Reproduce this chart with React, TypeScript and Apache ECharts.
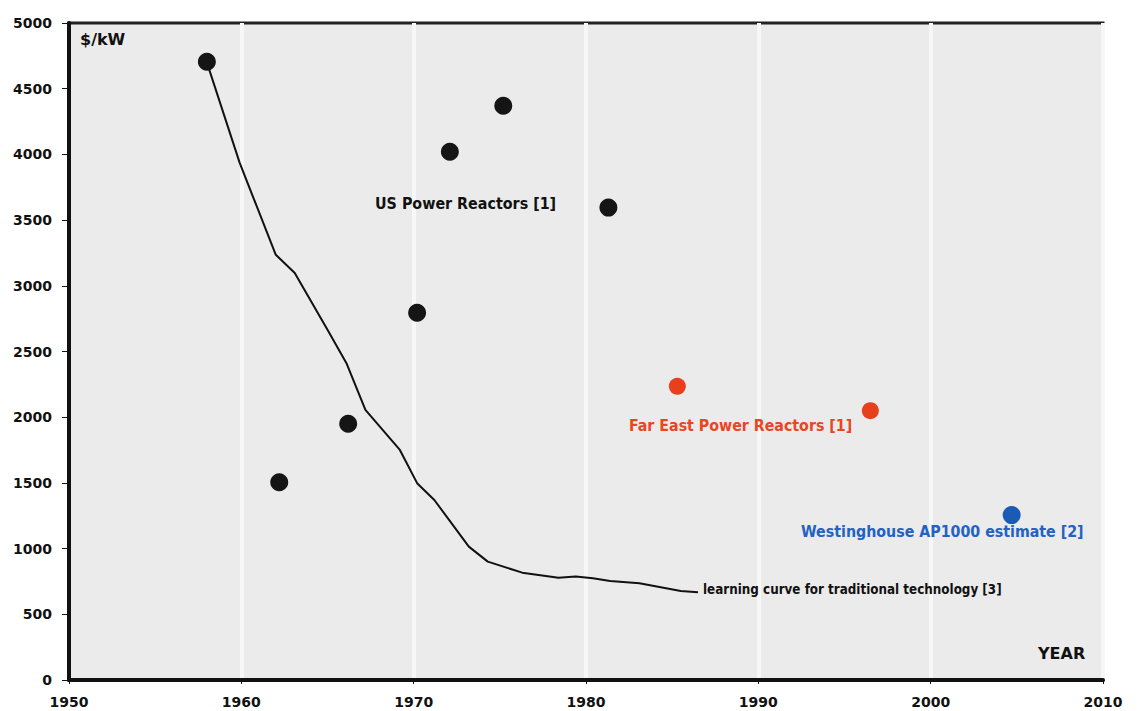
import React, { useEffect, useRef } from "react";
import * as echarts from "echarts";

// US power reactors [year, $/kW]
const usYears = [1958, 1962.2, 1966.2, 1970.2, 1972.1, 1975.2, 1981.3];
const usCosts = [4705, 1505, 1950, 2795, 4020, 4370, 3595];

// Far East power reactors
const feYears = [1985.3, 1996.5];
const feCosts = [2235, 2050];

// Westinghouse AP1000 estimate
const apYears = [2004.7];
const apCosts = [1255];

// Learning curve for traditional technology
const lcYears = [1958, 1959.9, 1962.0, 1963.1, 1965.0, 1966.1, 1967.2, 1969.2, 1970.2, 1971.2, 1973.2, 1974.3, 1976.3, 1978.4, 1979.4, 1980.4, 1981.4, 1983.1, 1985.5, 1986.5];
const lcCosts = [4700, 3937, 3236, 3097, 2665, 2411, 2056, 1751, 1498, 1370, 1015, 901, 817, 779, 787, 774, 754, 736, 678, 668];

const xTicks = [1950, 1960, 1970, 1980, 1990, 2000, 2010];

const zip = (a: number[], b: number[]) => a.map((v, i) => [v, b[i]]);

const FONT = "Verdana, 'DejaVu Sans', sans-serif";
const FONT_NARROW = "'DejaVu Sans Condensed', 'DejaVu Sans', sans-serif";

export default function App() {
  const ref = useRef<HTMLDivElement>(null);
  useEffect(() => {
    if (!ref.current) return;
    const chart = echarts.init(ref.current, null, { renderer: "svg" });
    const txt = (text: string, left: number, top: number, color: string, size: number, family = FONT_NARROW) => ({
      type: "text",
      left,
      top,
      z: 100,
      style: { text, fill: color, font: `bold ${size}px ${family}` },
    });
    chart.setOption({
      animation: false,
      backgroundColor: "#ffffff",
      grid: {
        left: 69,
        right: 36,
        top: 23,
        bottom: 31,
        show: true,
        backgroundColor: "#ebebeb",
        borderColor: "#222",
        borderWidth: 3,
      },
      xAxis: {
        type: "value",
        min: 1950,
        max: 2010,
        interval: 10,
        axisLine: { show: true, onZero: false, lineStyle: { color: "#111", width: 4 } },
        axisTick: { show: true, length: 4, lineStyle: { color: "#111" } },
        axisLabel: {
          margin: 15,
          color: "#111",
          fontWeight: "bold",
          fontSize: 14,
          fontFamily: FONT,
          formatter: (v: number) => (xTicks.includes(v) ? String(v) : ""),
        },
        splitLine: { show: true, lineStyle: { color: "#f7f7f7", width: 4 } },
      },
      yAxis: {
        type: "value",
        min: 0,
        max: 5000,
        interval: 500,
        axisLine: { show: true, onZero: false, lineStyle: { color: "#111", width: 4 } },
        axisTick: { show: true, length: 7, lineStyle: { color: "#111" } },
        axisLabel: {
          margin: 17,
          color: "#111",
          fontWeight: "bold",
          fontSize: 14,
          fontFamily: FONT,
          formatter: (v: number) => String(v),
        },
        splitLine: { show: false },
      },
      series: [
        {
          name: "learning curve",
          type: "line",
          data: zip(lcYears, lcCosts),
          symbol: "none",
          lineStyle: { color: "#111", width: 2 },
          z: 2,
        },
        {
          name: "US Power Reactors",
          type: "scatter",
          data: zip(usYears, usCosts),
          symbolSize: 18,
          itemStyle: { color: "#151515", opacity: 1 },
          z: 3,
        },
        {
          name: "Far East Power Reactors",
          type: "scatter",
          data: zip(feYears, feCosts),
          symbolSize: 17,
          itemStyle: { color: "#e8401c", opacity: 1 },
          z: 3,
        },
        {
          name: "Westinghouse AP1000",
          type: "scatter",
          data: zip(apYears, apCosts),
          symbolSize: 18,
          itemStyle: { color: "#1a5bb8", opacity: 1 },
          z: 3,
        },
      ],
      graphic: [
        txt("$/kW", 80, 31, "#111", 16, FONT),
        txt("US Power Reactors [1]", 375, 195, "#111", 15.9),
        txt("Far East Power Reactors [1]", 629, 417, "#e8461f", 15.8),
        txt("Westinghouse AP1000 estimate [2]", 801, 523, "#2262c2", 15.8),
        txt("learning curve for traditional technology [3]", 703, 583, "#111", 13.3),
        txt("YEAR", 1038, 645, "#111", 16, FONT),
      ],
    });
    return () => chart.dispose();
  }, []);
  return <div ref={ref} style={{ position: "fixed", left: 0, top: 0, width: 1139, height: 711 }} />;
}
